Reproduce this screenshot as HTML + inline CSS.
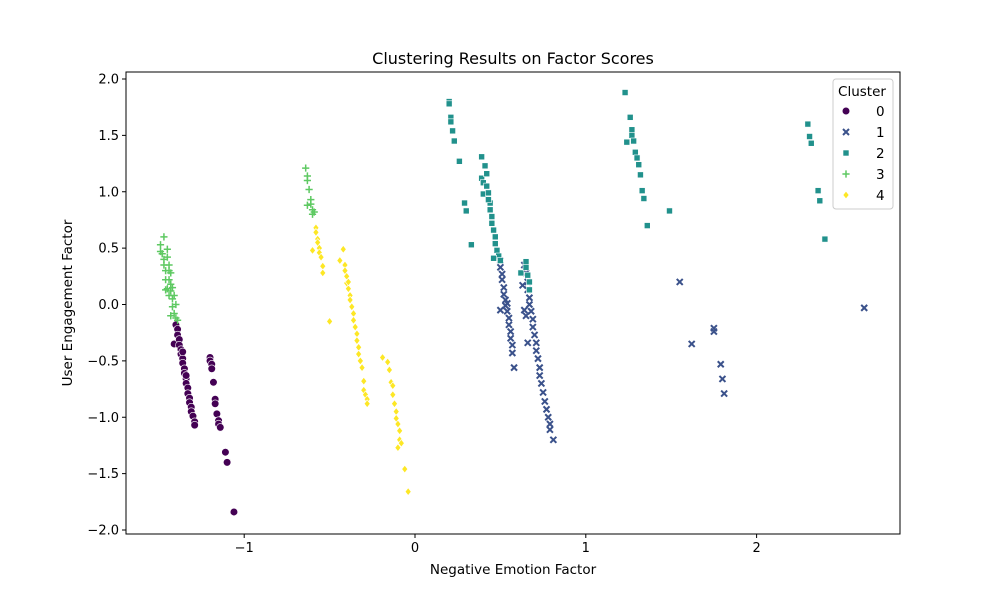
<!DOCTYPE html>
<html><head><meta charset="utf-8"><style>
body{margin:0;background:#fff;font-family:"Liberation Sans","DejaVu Sans",sans-serif}
svg text{font-family:"DejaVu Sans","Liberation Sans",sans-serif}
</style></head><body>
<svg id="chart" width="1000" height="600" xmlns="http://www.w3.org/2000/svg"></svg>
<script>
const xTicks=[-1,0,1,2];
const yTicks=[-2.0,-1.5,-1.0,-0.5,0.0,0.5,1.0,1.5,2.0];
const clusterLabels=["0","1","2","3","4"];
const clusterColors=["#440154","#3b528b","#21918c","#5ec962","#fde725"];
const c0=[[-1.41,-0.35],[-1.40,-0.18],[-1.39,-0.22],[-1.39,-0.27],[-1.38,-0.31],[-1.38,-0.36],[-1.37,-0.40],[-1.37,-0.44],[-1.36,-0.48],[-1.36,-0.52],[-1.35,-0.57],[-1.35,-0.61],[-1.34,-0.66],[-1.34,-0.70],[-1.33,-0.74],[-1.33,-0.79],[-1.32,-0.83],[-1.32,-0.87],[-1.31,-0.91],[-1.31,-0.95],[-1.30,-0.99],[-1.29,-1.04],[-1.29,-1.07],[-1.34,-0.63],[-1.36,-0.42],
[-1.20,-0.47],[-1.20,-0.50],[-1.19,-0.53],[-1.19,-0.57],[-1.18,-0.69],[-1.17,-0.84],[-1.17,-0.88],[-1.16,-0.97],[-1.15,-1.03],[-1.15,-1.06],[-1.14,-1.09],[-1.11,-1.31],[-1.10,-1.40],[-1.06,-1.84]];
const c1=[[0.50,0.39],[0.50,0.33],[0.51,0.27],[0.51,0.22],[0.52,0.15],[0.52,0.09],[0.53,0.04],[0.53,-0.01],[0.54,-0.06],[0.55,-0.12],[0.55,-0.18],[0.56,-0.24],[0.56,-0.30],[0.57,-0.36],[0.57,-0.43],[0.58,-0.56],[0.50,-0.05],[0.54,0.01],
[0.64,0.35],[0.65,0.28],[0.66,0.20],[0.66,0.13],[0.67,0.06],[0.67,0.00],[0.68,-0.06],[0.69,-0.13],[0.69,-0.20],[0.70,-0.27],[0.71,-0.34],[0.71,-0.41],[0.72,-0.48],[0.73,-0.56],[0.73,-0.63],[0.74,-0.70],[0.75,-0.78],[0.76,-0.86],[0.77,-0.93],[0.78,-1.00],[0.79,-1.06],[0.79,-1.11],[0.81,-1.20],[0.64,-0.05],[0.65,-0.10],[0.66,-0.34],[0.63,0.17],
[1.55,0.20],[1.62,-0.35],[1.75,-0.21],[1.75,-0.24],[1.79,-0.53],[1.80,-0.66],[1.81,-0.79],[2.63,-0.03]];
const c2=[[0.20,1.80],[0.20,1.78],[0.21,1.66],[0.21,1.62],[0.22,1.54],[0.23,1.45],[0.26,1.27],[0.29,0.90],[0.30,0.83],[0.33,0.53],
[0.39,1.31],[0.39,1.12],[0.40,1.08],[0.40,0.98],[0.41,1.23],[0.42,1.16],[0.42,1.05],[0.43,0.99],[0.44,0.90],[0.44,0.84],[0.45,0.78],[0.45,0.72],[0.46,0.66],[0.47,0.60],[0.47,0.54],[0.48,0.48],[0.49,0.43],[0.50,0.39],[0.46,0.41],[0.43,0.93],
[0.62,0.28],[0.65,0.38],[0.65,0.33],[0.66,0.26],[0.67,0.20],[0.67,0.13],
[1.23,1.88],[1.26,1.66],[1.27,1.55],[1.27,1.50],[1.28,1.45],[1.29,1.35],[1.30,1.30],[1.31,1.24],[1.32,1.15],[1.24,1.44],[1.33,1.01],[1.34,0.94],[1.36,0.70],[1.49,0.83],
[2.30,1.60],[2.31,1.49],[2.32,1.43],[2.36,1.01],[2.37,0.92],[2.40,0.58]];
const c3=[[-1.49,0.53],[-1.47,0.60],[-1.49,0.47],[-1.48,0.45],[-1.47,0.40],[-1.47,0.35],[-1.46,0.30],[-1.46,0.22],[-1.45,0.49],[-1.45,0.42],[-1.45,0.14],[-1.44,0.35],[-1.44,0.30],[-1.44,0.22],[-1.44,0.08],[-1.43,0.28],[-1.43,0.18],[-1.43,0.12],[-1.42,0.15],[-1.42,0.05],[-1.42,-0.02],[-1.41,0.08],[-1.41,-0.08],[-1.40,0.00],[-1.40,-0.12],[-1.43,-0.10],[-1.46,0.13],[-1.39,-0.14],
[-0.64,1.21],[-0.63,1.14],[-0.63,1.10],[-0.62,1.02],[-0.61,0.93],[-0.61,0.89],[-0.60,0.84],[-0.60,0.80],[-0.59,0.82],[-0.63,0.88]];
const c4=[[-0.58,0.68],[-0.58,0.64],[-0.57,0.58],[-0.57,0.55],[-0.56,0.50],[-0.56,0.46],[-0.55,0.42],[-0.54,0.34],[-0.54,0.28],[-0.60,0.48],[-0.50,-0.15],[-0.44,0.39],[-0.42,0.49],
[-0.41,0.35],[-0.41,0.30],[-0.40,0.25],[-0.40,0.19],[-0.39,0.14],[-0.38,0.08],[-0.38,0.04],[-0.37,-0.02],[-0.36,-0.08],[-0.36,-0.14],[-0.35,-0.20],[-0.34,-0.26],[-0.34,-0.32],[-0.33,-0.38],[-0.33,-0.44],[-0.32,-0.50],[-0.31,-0.56],[-0.30,-0.68],[-0.30,-0.76],[-0.29,-0.80],[-0.28,-0.84],[-0.28,-0.88],[-0.39,0.20],
[-0.19,-0.47],[-0.16,-0.51],[-0.15,-0.58],[-0.14,-0.69],[-0.13,-0.72],[-0.13,-0.80],[-0.12,-0.88],[-0.11,-0.95],[-0.11,-1.01],[-0.10,-1.06],[-0.09,-1.12],[-0.09,-1.20],[-0.08,-1.23],[-0.10,-1.27],[-0.06,-1.46],[-0.04,-1.66]];
const series=[c0,c1,c2,c3,c4];

const L=126,R=900,T=72,B=534;
const sx=v=>415+v*170.8, sy=v=>304.5-v*112.75;
const svg=document.getElementById('chart');const NS='http://www.w3.org/2000/svg';
function mk(tag,attrs,parent){const e=document.createElementNS(NS,tag);for(const k in attrs)e.setAttribute(k,attrs[k]);(parent||svg).appendChild(e);return e;}
function txt(s,attrs){const e=mk('text',attrs);e.textContent=s;return e;}
const axes=mk('rect',{x:L,y:T,width:R-L,height:B-T,fill:'none',stroke:'#000','stroke-width':1});


xTicks.forEach(v=>{const x=sx(v);mk('line',{x1:x,x2:x,y1:B,y2:B+4,stroke:'#000'});
 const t=txt(v<0?'−'+Math.abs(v):String(v),{x:x,y:B+18,'font-size':13,'text-anchor':'middle'});
 
 });
yTicks.forEach(v=>{const y=sy(v);mk('line',{x1:L-4,x2:L,y1:y,y2:y,stroke:'#000'});
 const s=(v<0?'−':'')+Math.abs(v).toFixed(1);
 const t=txt(s,{x:L-7,y:y+4.5,'font-size':13,'text-anchor':'end'});
 
 });
function marker(k,x,y,g){const c=clusterColors[k];let e;
 if(k===0)e=mk('circle',{cx:x,cy:y,r:3.8,fill:c,stroke:'#fff','stroke-width':0.6},g);
 else if(k===1)e=mk('path',{d:`M${x-3},${y-3}L${x+3},${y+3}M${x-3},${y+3}L${x+3},${y-3}`,stroke:c,'stroke-width':2},g);
 else if(k===2)e=mk('rect',{x:x-3,y:y-3,width:6,height:6,fill:c,stroke:'#fff','stroke-width':0.6},g);
 else if(k===3)e=mk('path',{d:`M${x-3.6},${y}L${x+3.6},${y}M${x},${y-3.6}L${x},${y+3.6}`,stroke:c,'stroke-width':1.5},g);
 else e=mk('path',{d:`M${x},${y-3.8}L${x+3},${y}L${x},${y+3.8}L${x-3},${y}Z`,fill:c,stroke:'#fff','stroke-width':0.6},g);
 return e;}
series.forEach((pts,k)=>{const g=mk('g',{});
 
 
 pts.forEach(p=>{const m=marker(k,sx(p[0]),sy(p[1]),g);
  
  });});
const title=txt('Clustering Results on Factor Scores',{x:513,y:64,'font-size':16,'text-anchor':'middle'});


const xl=txt('Negative Emotion Factor',{x:513,y:574,'font-size':13.5,'text-anchor':'middle'});


const yl=txt('User Engagement Factor',{x:0,y:0,'font-size':13.5,'text-anchor':'middle',transform:'translate(72,303) rotate(-90)'});


const lg=mk('g',{});


mk('rect',{x:833,y:79,width:60,height:130,rx:3,fill:'#fff','fill-opacity':0.8,stroke:'#ccc'},lg);
const lt=mk('text',{x:862,y:96,'font-size':13.5,'text-anchor':'middle'},lg);lt.textContent='Cluster';
clusterLabels.forEach((lab,k)=>{const y=111+k*21;const g=mk('g',{},lg);
 
 
 marker(k,846,y,g);const t=mk('text',{x:876,y:y+5,'font-size':13.5},g);t.textContent=lab;});
</script>
</body></html>
